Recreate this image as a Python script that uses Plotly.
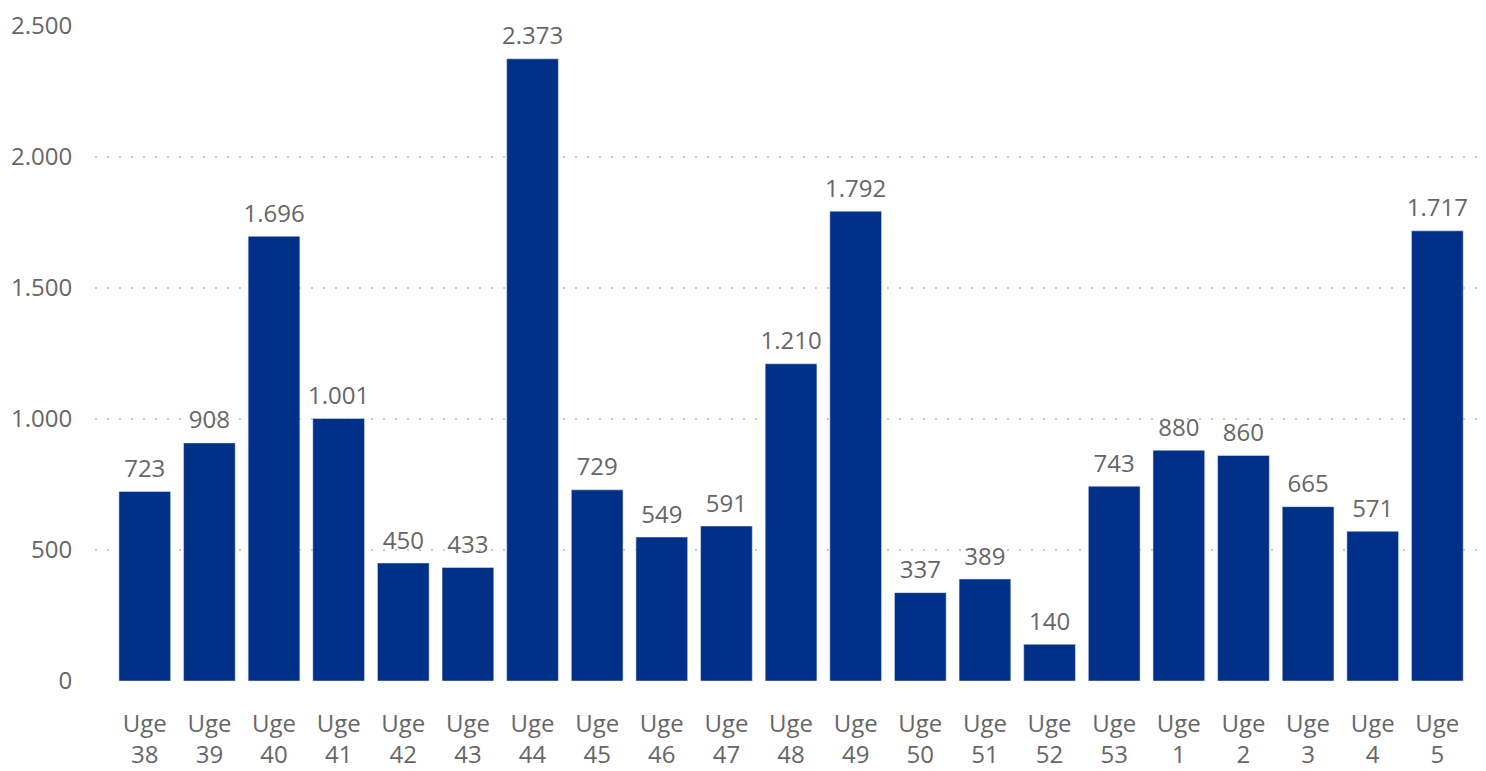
import plotly.graph_objects as go

weeks = ["38", "39", "40", "41", "42", "43", "44", "45", "46", "47", "48",
         "49", "50", "51", "52", "53", "1", "2", "3", "4", "5"]
values = [723, 908, 1696, 1001, 450, 433, 2373, 729, 549, 591, 1210,
          1792, 337, 389, 140, 743, 880, 860, 665, 571, 1717]
labels = ["Uge<br>" + w for w in weeks]

fig = go.Figure()
fig.add_trace(
    go.Bar(
        x=labels,
        y=values,
        marker_color="#003087",
        hoverinfo="skip",
    )
)
# value labels as an invisible-marker text trace, gives a bit more room above bars
fig.add_trace(
    go.Scatter(
        x=labels,
        y=values,
        mode="markers+text",
        marker=dict(size=12, opacity=0),
        texttemplate="%{y:,}",
        textposition="top center",
        textfont=dict(size=24, color="#666666"),
        cliponaxis=False,
        hoverinfo="skip",
    )
)

# page body has an 8px margin, so the figure is a bit smaller than the window
fig.update_layout(
    width=1478,
    height=763,
    margin=dict(l=87, r=6, t=17, b=90),
    plot_bgcolor="white",
    paper_bgcolor="white",
    bargap=0.2,
    separators=",.",
    font=dict(family="Open Sans, Noto Sans, sans-serif", size=24, color="#666666"),
    showlegend=False,
)
fig.update_xaxes(
    range=[-0.77, 20.66],
    automargin=False,
    showgrid=False,
    showline=False,
    ticks="outside",
    ticklen=21,
    tickcolor="rgba(0,0,0,0)",
    tickfont=dict(size=24, color="#666666"),
)
fig.update_yaxes(
    range=[0, 2502],
    automargin=False,
    ticklabeloverflow="allow",
    tickvals=[0, 500, 1000, 1500, 2000, 2500],
    tickformat=",",
    showgrid=True,
    gridcolor="#c8c8c8",
    gridwidth=2,
    griddash="2px,10px",
    zeroline=False,
    showline=False,
    ticks="outside",
    ticklen=17,
    tickcolor="rgba(0,0,0,0)",
    tickfont=dict(size=24, color="#666666"),
)

fig.write_html("out.html")
